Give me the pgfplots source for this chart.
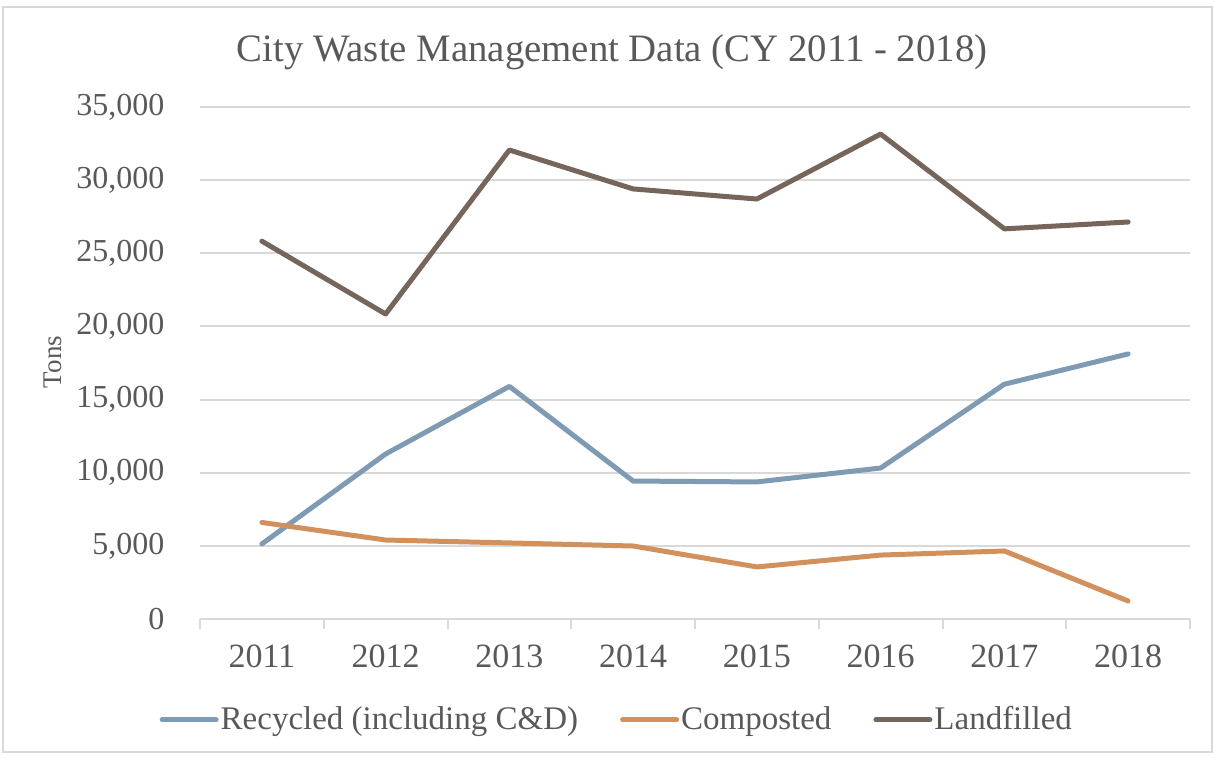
\documentclass[border=0pt]{standalone}
\usepackage{fontspec}
\setmainfont{Liberation Serif}
\usepackage{pgfplots}
\pgfplotsset{compat=1.18}
\definecolor{txt}{HTML}{595959}
\definecolor{gridc}{HTML}{D9D9D9}
\definecolor{recyc}{HTML}{7F9BB3}
\definecolor{compo}{HTML}{D2905C}
\definecolor{landf}{HTML}{76655A}
\begin{document}
\begin{tikzpicture}
\useasboundingbox (0,0) rectangle (607.5pt,378.5pt);
\draw[gridc, line width=0.75pt] (1.5pt,2.5pt) rectangle (606pt,375pt);
\node[text=txt, font=\fontsize{19.4}{22}\selectfont] at (306pt,352.5pt) {City Waste Management Data (CY 2011 - 2018)};
\begin{axis}[
  at={(100pt,69pt)}, anchor=south west,
  scale only axis, width=495pt, height=256pt,
  xmin=-0.5, xmax=7.5, ymin=0, ymax=35000,
  axis x line*=bottom, axis y line*=left,
  x axis line style={gridc, line width=1pt, -},
  y axis line style={draw=none},
  xtick={0,...,7}, xticklabels={2011,2012,2013,2014,2015,2016,2017,2018},
  major x tick style={draw=none},
  minor xtick={-0.5,0.5,...,7.5},
  minor x tick style={gridc, line width=1pt},
  minor tick length=5pt,
  tick align=outside,
  ytick={0,5000,...,35000},
  ytick style={draw=none},
  ymajorgrids, grid style={gridc, line width=1pt},
  xticklabel style={text=txt, font=\fontsize{17}{20}\selectfont, yshift=-5pt},
  yticklabel style={text=txt, font=\fontsize{16}{19}\selectfont, xshift=-10pt},
  /pgf/number format/.cd, 1000 sep={,}, assume math mode=true, /pgfplots/.cd,
  scaled y ticks=false,
  ylabel={Tons},
  ylabel style={at={(axis description cs:-0.1485,0.502)}, anchor=center, text=txt, font=\fontsize{13.5}{16}\selectfont},
  legend columns=3,
  legend style={at={(0.421,-0.197)}, anchor=center, draw=none, fill=none, text=txt,
    font=\fontsize{16.5}{19}\selectfont, /tikz/every even column/.append style={column sep=20pt},
    /tikz/every odd column/.append style={column sep=0pt},
    nodes={inner xsep=1pt}},
  legend image code/.code={\draw[#1, line cap=round] (0pt,0pt) -- (27pt,0pt);},
  every axis plot/.append style={line width=2.5pt, line join=round, line cap=round},
]
\addplot[recyc] coordinates {(0,5130) (1,11280) (2,15900) (3,9430) (4,9370) (5,10320) (6,16050) (7,18120)};
\addlegendentry{Recycled (including C\&D)}
\addplot[compo] coordinates {(0,6600) (1,5400) (2,5200) (3,4990) (4,3560) (5,4370) (6,4650) (7,1230)};
\addlegendentry{Composted}
\addplot[landf] coordinates {(0,25830) (1,20850) (2,32060) (3,29400) (4,28710) (5,33150) (6,26670) (7,27140)};
\addlegendentry{Landfilled}
\end{axis}
\end{tikzpicture}
\end{document}
